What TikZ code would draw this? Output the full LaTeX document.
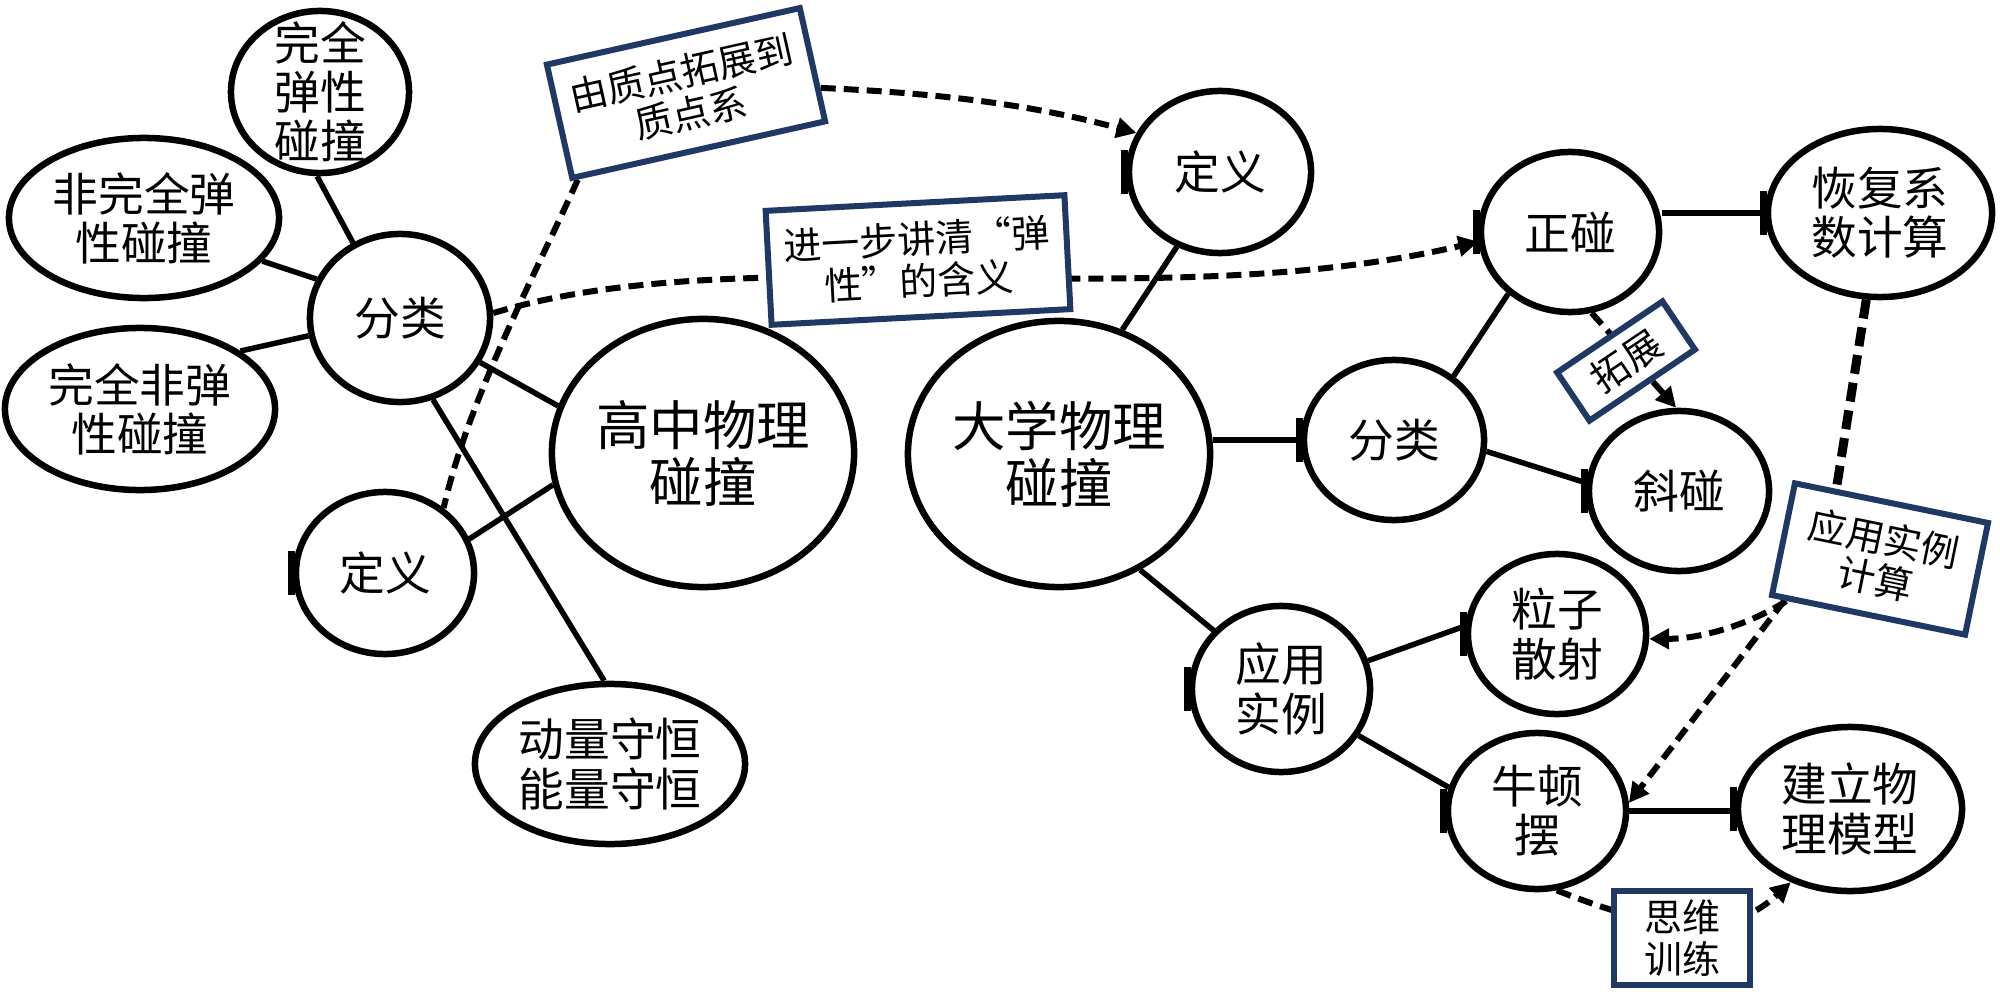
\documentclass[tikz,border=0pt]{standalone}
\usepackage{fontspec}
\setmainfont{Noto Sans CJK SC}
\usetikzlibrary{shapes.geometric,arrows.meta,calc}
\definecolor{navy}{RGB}{31,56,100}
\pgfdeclarelayer{bg}
\pgfsetlayers{bg,main}
\begin{document}
\begin{tikzpicture}[x=0.01cm,y=-0.01cm,
  bub/.style={ellipse, draw=black, line width=0.065cm, fill=white, inner sep=0pt},
  tx/.style={font=\fontsize{13}{14}\selectfont, align=center, inner sep=0pt},
  bigtx/.style={font=\fontsize{15.2}{16.2}\selectfont, align=center, inner sep=0pt},
  bx/.style={draw=navy, line width=0.06cm, fill=white, inner sep=0pt, align=center, font=\fontsize{10.8}{11.8}\selectfont},
  ln/.style={line width=0.055cm},
  dsh/.style={line width=0.06cm, dash pattern=on 0.15cm off 0.08cm},
  thickdsh/.style={line width=0.09cm, dash pattern=on 0.19cm off 0.09cm},
  arr/.style={-{Triangle[length=0.2cm,width=0.2cm]}},
  tk/.style={line width=0.065cm}
]
\useasboundingbox (0,0) rectangle (2000,994);
\begin{pgfonlayer}{bg}
\fill[white] (0,0) rectangle (2000,994);
\end{pgfonlayer}

% ellipse nodes
\node[bub, minimum width=1.78cm, minimum height=1.62cm, label={[tx]center:{完全\\弹性\\碰撞}}] (a1) at (320,92) {};
\node[bub, minimum width=2.70cm, minimum height=1.60cm, label={[tx]center:{非完全弹\\性碰撞}}] (a2) at (144,218) {};
\node[bub, minimum width=2.70cm, minimum height=1.62cm, label={[tx]center:{完全非弹\\性碰撞}}] (a3) at (140,409) {};
\node[bub, minimum width=1.80cm, minimum height=1.68cm, label={[tx]center:分类}] (fenL) at (400,318) {};
\node[bub, minimum width=1.78cm, minimum height=1.62cm, label={[tx]center:定义}] (dingL) at (385,573) {};
\node[bub, minimum width=3.02cm, minimum height=2.68cm, label={[bigtx]center:{高中物理\\碰撞}}] (gz) at (703,453) {};
\node[bub, minimum width=2.70cm, minimum height=1.60cm, label={[tx]center:{动量守恒\\能量守恒}}] (dl) at (610,764) {};
\node[bub, minimum width=3.02cm, minimum height=2.66cm, label={[bigtx]center:{大学物理\\碰撞}}] (dx) at (1059,454) {};
\node[bub, minimum width=1.82cm, minimum height=1.62cm, label={[tx]center:定义}] (dingT) at (1220,172) {};
\node[bub, minimum width=1.78cm, minimum height=1.60cm, label={[tx]center:正碰}] (zheng) at (1570,232) {};
\node[bub, minimum width=2.24cm, minimum height=1.68cm, label={[tx]center:{恢复系\\数计算}}] (huifu) at (1880,213) {};
\node[bub, minimum width=1.80cm, minimum height=1.60cm, label={[tx]center:分类}] (fenR) at (1394,440) {};
\node[bub, minimum width=1.80cm, minimum height=1.60cm, label={[tx]center:斜碰}] (xie) at (1679,491) {};
\node[bub, minimum width=1.78cm, minimum height=1.60cm, label={[tx]center:{粒子\\散射}}] (lizi) at (1557,634) {};
\node[bub, minimum width=1.78cm, minimum height=1.66cm, label={[tx]center:{应用\\实例}}] (yy) at (1281,689) {};
\node[bub, minimum width=1.78cm, minimum height=1.56cm, label={[tx]center:{牛顿\\摆}}] (nd) at (1537,811) {};
\node[bub, minimum width=2.24cm, minimum height=1.64cm, label={[tx]center:{建立物\\理模型}}] (jl) at (1850,809) {};

% boxes
\node[bx, minimum width=2.59cm, minimum height=1.16cm, rotate=12.6] (b1) at (686,93) {由质点拓展到\\质点系};
\node[bx, minimum width=2.99cm, minimum height=1.14cm, rotate=3] (b2) at (918,260) {进一步讲清“弹\\性”的含义};
\node[bx, minimum width=1.27cm, minimum height=0.58cm, rotate=34] (b3) at (1626,361) {拓展};
\node[bx, minimum width=1.97cm, minimum height=1.14cm, rotate=-11.6] (b4) at (1880,559) {应用实例\\计算};
\node[bx, minimum width=1.36cm, minimum height=0.94cm] (b5) at (1682,938) {思维\\训练};

% small ticks at left side of some nodes
\foreach \n in {dingL,dingT,zheng,fenR,xie,lizi,yy,nd,jl,huifu}
  \draw[tk] ([xshift=-0.01cm,yshift=-0.22cm]\n.west) -- ([xshift=-0.01cm,yshift=0.22cm]\n.west);

\begin{pgfonlayer}{bg}
% solid connectors
\draw[ln] (fenL.122.4) -- (a1.-92);
\draw[ln] (fenL.155.4) -- (a2.-20.3);
\draw[ln] (fenL.191.7) -- (a3.30.8);
\draw[ln] (fenL.-29.4) -- (gz.162.6);
\draw[ln] (fenL.-68) -- (dl.94);
\draw[ln] (dingL.22.9) -- (gz.192);
\draw[ln] (dx.63) -- (dingT.240);
\draw[ln] (fenR.west) -- (fenR.west -| dx.east);
\draw[ln] (dx.-55) -- (yy.139.5);
\draw[ln] (fenR.47.2) -- (zheng.225.5);
\draw[ln] (fenR.-7.8) -- (xie.175);
\draw[ln] (huifu.west) -- (huifu.west -| zheng.east);
\draw[ln] (yy.18) -- (lizi.175.5);
\draw[ln] (yy.-31.4) -- (nd.165);
\draw[ln] (nd.east) -- (nd.east -| jl.west);
% dashed connectors
\draw[dsh] ($(b1.south west)!0.03!(b1.south east)$) .. controls +(-40,90) and +(25,-110) .. (dingL.48);
\draw[dsh,arr] ($(b1.north east)!0.7!(b1.south east)$) .. controls +(110,5) and +(-110,-30) .. (dingT.155);
\draw[dsh,arr] (fenL.3) .. controls +(255,-78) and +(-328,77) .. (zheng.186.8);
\draw[dsh,arr] (zheng.-75.7) -- (xie.92.8);
\draw[thickdsh] (huifu.-99) -- ($(b4.north west)!0.22!(b4.north east)$);
\draw[dsh,arr] ($(b4.south west)!0.09!(b4.south east)$) .. controls +(-40,25) and +(50,0) .. (lizi.-3.4);
\draw[dsh,arr] ($(b4.south west)!0.08!(b4.south east)$) -- (nd.5.2);
\draw[dsh,arr] (nd.-76.6) .. controls +(90,35) and +(-68,63) .. (jl.231.5);
\end{pgfonlayer}
\end{tikzpicture}
\end{document}
